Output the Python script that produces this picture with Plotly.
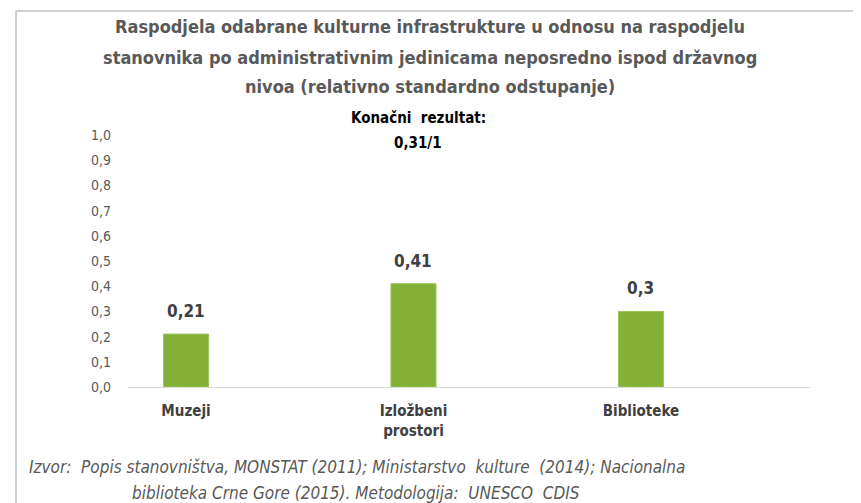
import plotly.graph_objects as go

categories = ["Muzeji", "Izložbeni<br>prostori", "Biblioteke"]
values = [0.21, 0.41, 0.30]
value_labels = ["0,21", "0,41", "0,3"]
tick_vals = [0.0, 0.1, 0.2, 0.3, 0.4, 0.5, 0.6, 0.7, 0.8, 0.9, 1.0]
tick_text = ["0,0", "0,1", "0,2", "0,3", "0,4", "0,5", "0,6", "0,7", "0,8", "0,9", "1,0"]

title_lines = ["Raspodjela odabrane kulturne infrastrukture u odnosu na raspodjelu",
               "stanovnika po administrativnim jedinicama neposredno ispod državnog",
               "nivoa (relativno standardno odstupanje)"]
result_label = "Konačni  rezultat:"
result_value = "0,31/1"
footer1 = "Izvor:  Popis stanovništva, MONSTAT (2011); Ministarstvo  kulture  (2014); Nacionalna"
footer2 = "biblioteka Crne Gore (2015). Metodologija:  UNESCO  CDIS"

# page body margin offset (figure is drawn at 8,8 in the window)
O = 8
W, H = 861, 503
PL, PR, PT, PB = 128, 810, 135, 387   # plot area in window pixels
L, R, T, B = PL - O, W - (PR - O), PT - O, H - (PB - O)
PW, PH = W - L - R, H - T - B

def px(x):
    return (x - O - L) / PW

def py(y):
    return (H - B - (y - O)) / PH

FONT = "DejaVu Sans Condensed, Liberation Sans Narrow, Arial Narrow, sans-serif"
x_pos = list(range(len(categories)))

fig = go.Figure()
fig.add_trace(go.Bar(
    x=x_pos, y=values, width=0.198,
    marker=dict(color="#83B135", line=dict(color="#9CC45A", width=1)),
))

for xi, v, lab in zip(x_pos, values, value_labels):
    fig.add_annotation(x=xi, y=v, text="<b>%s</b>" % lab, showarrow=False,
                       yanchor="middle", yshift=23,
                       font=dict(family=FONT, size=17, color="#404040"))

fig.update_layout(
    width=W, height=H,
    margin=dict(l=L, r=R, t=T, b=B),
    paper_bgcolor="white", plot_bgcolor="white",
    showlegend=False,
    font=dict(family=FONT),
    xaxis=dict(range=[-0.255, 2.743], tickvals=x_pos, ticktext=["<b>%s</b>" % c for c in categories],
               tickfont=dict(size=15, color="#404040", family=FONT),
               showline=True, linecolor="#D9D9D9", linewidth=1, showgrid=False, zeroline=False,
               ticks="", ticklabelstandoff=10),
    yaxis=dict(range=[0, 1.0], tickvals=tick_vals, ticktext=tick_text,
               tickfont=dict(size=14, color="#595959", family=FONT),
               showgrid=False, zeroline=False, showline=False, ticks="", ticklabelstandoff=16),
)

for yline, line in zip([27, 57, 86], title_lines):
    fig.add_annotation(xref="paper", yref="paper", x=px(430), y=py(yline), text="<b>%s</b>" % line,
                       showarrow=False, xanchor="center", yanchor="middle",
                       font=dict(family=FONT, size=18, color="#595959"))
fig.add_annotation(xref="paper", yref="paper", x=px(418), y=py(118), text="<b>%s</b>" % result_label,
                   showarrow=False, xanchor="center", yanchor="middle",
                   font=dict(family=FONT, size=15, color="#000000"))
fig.add_annotation(xref="paper", yref="paper", x=px(418), y=py(143), text="<b>%s</b>" % result_value,
                   showarrow=False, xanchor="center", yanchor="middle",
                   font=dict(family=FONT, size=15, color="#000000"))
fig.add_annotation(xref="paper", yref="paper", x=px(27), y=py(467), text="<i>%s</i>" % footer1,
                   showarrow=False, xanchor="left", yanchor="middle",
                   font=dict(family=FONT, size=17, color="#595959"))
fig.add_annotation(xref="paper", yref="paper", x=px(130), y=py(493), text="<i>%s</i>" % footer2,
                   showarrow=False, xanchor="left", yanchor="middle",
                   font=dict(family=FONT, size=17, color="#595959"))

fig.add_shape(type="line", xref="paper", yref="paper", x0=px(16), x1=px(W + O), y0=py(11), y1=py(11),
              line=dict(color="#CFCFCF", width=2), layer="above")
fig.add_shape(type="line", xref="paper", yref="paper", x0=px(16), x1=px(16), y0=py(11), y1=py(H + O),
              line=dict(color="#CFCFCF", width=2), layer="above")

fig.write_html("out.html")
